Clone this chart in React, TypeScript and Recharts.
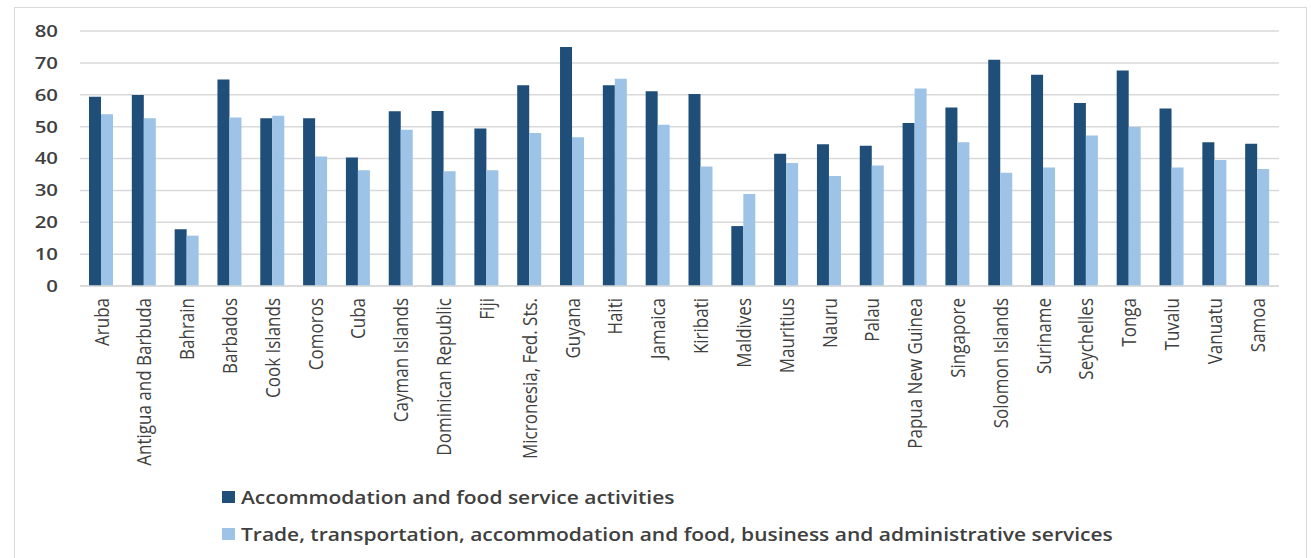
import React from 'react';
import { BarChart, Bar, XAxis, YAxis, CartesianGrid, Legend } from 'recharts';

const categories = [
  'Aruba', 'Antigua and Barbuda', 'Bahrain', 'Barbados', 'Cook Islands', 'Comoros', 'Cuba',
  'Cayman Islands', 'Dominican Republic', 'Fiji', 'Micronesia, Fed. Sts.', 'Guyana', 'Haiti',
  'Jamaica', 'Kiribati', 'Maldives', 'Mauritius', 'Nauru', 'Palau', 'Papua New Guinea',
  'Singapore', 'Solomon Islands', 'Suriname', 'Seychelles', 'Tonga', 'Tuvalu', 'Vanuatu', 'Samoa',
];

const accommodation = [
  59.4, 59.9, 17.8, 64.8, 52.6, 52.6, 40.3, 54.8, 54.9, 49.4, 63.0, 75.0, 63.0, 61.1, 60.2,
  18.8, 41.5, 44.5, 44.0, 51.1, 56.0, 71.0, 66.3, 57.4, 67.6, 55.7, 45.1, 44.6,
];

const trade = [
  53.9, 52.6, 15.8, 52.9, 53.4, 40.6, 36.3, 49.0, 36.0, 36.3, 48.0, 46.7, 65.0, 50.6, 37.5,
  28.9, 38.6, 34.5, 37.8, 62.0, 45.1, 35.5, 37.2, 47.2, 49.9, 37.2, 39.5, 36.7,
];

const yTicks = [0, 10, 20, 30, 40, 50, 60, 70, 80];

const seriesNames = [
  'Accommodation and food service activities',
  'Trade, transportation, accommodation and food, business and administrative services',
];

const seriesColors = ['#1F4E79', '#9DC3E6'];

const data = categories.map((name, i) => ({
  name,
  acc: accommodation[i],
  trade: trade[i],
}));

const FONT = '"Open Sans", sans-serif';
const TEXT = '#404040';
const STRETCH = 1.2;

function XTick(props: any) {
  const { x, y, payload } = props;
  return (
    <g transform={`translate(${x},${y}) scale(${STRETCH},1)`}>
      <text
        transform="rotate(-90)"
        x={0}
        y={0}
        dy="0.35em"
        textAnchor="end"
        fontSize={17}
        fill={TEXT}
        fontFamily={FONT}
      >
        {payload.value}
      </text>
    </g>
  );
}

function YTick(props: any) {
  const { x, y, payload } = props;
  return (
    <g transform={`translate(${x},${y}) scale(1.2,1)`}>
      <text x={0} y={0} dy="0.35em" textAnchor="end" fontSize={17} fontWeight={600} fill={TEXT} fontFamily={FONT}>
        {payload.value}
      </text>
    </g>
  );
}

function LegendContent(props: any) {
  const payload = props.payload || [];
  return (
    <div style={{ fontFamily: FONT, fontSize: 18, fontWeight: 600, color: TEXT }}>
      {payload.map((entry: any, i: number) => (
        <div key={i} style={{ display: 'flex', alignItems: 'center', height: 37 }}>
          <span
            style={{
              display: 'inline-block',
              width: 13,
              height: 12,
              background: entry.color,
              marginRight: 6,
              flex: 'none',
            }}
          />
          <span
            style={{
              display: 'inline-block',
              transform: 'scaleX(1.165)',
              transformOrigin: 'left center',
              whiteSpace: 'nowrap',
            }}
          >
            {entry.value}
          </span>
        </div>
      ))}
    </div>
  );
}

export default function App() {
  return (
    <div style={{ position: 'absolute', left: 0, top: 0, width: 1311, height: 558, background: '#fff', overflow: 'hidden' }}>
      <div
        style={{
          position: 'absolute',
          left: 14,
          top: 7,
          width: 1293,
          height: 600,
          border: '1px solid #d9d9d9',
          boxSizing: 'border-box',
        }}
      />
      <div style={{ position: 'absolute', left: 0, top: 0 }}>
        <BarChart
          width={1311}
          height={558}
          data={data}
          margin={{ top: 31, right: 32, bottom: 72, left: 20 }}
          barGap={0}
          barCategoryGap="21%"
        >
          <CartesianGrid vertical={false} stroke="#d9d9d9" strokeWidth={1.5} />
          <XAxis
            dataKey="name"
            interval={0}
            height={200}
            tickLine={false}
            tickSize={0}
            tickMargin={12}
            axisLine={{ stroke: '#d9d9d9', strokeWidth: 1.5 }}
            tick={<XTick />}
          />
          <YAxis
            domain={[0, 80]}
            ticks={yTicks}
            width={60}
            axisLine={false}
            tickLine={false}
            tickSize={0}
            tickMargin={22}
            tick={<YTick />}
          />
          <Legend
            layout="vertical"
            align="center"
            verticalAlign="middle"
            content={<LegendContent />}
            wrapperStyle={{ position: 'absolute', left: 222, top: 478, width: 1000, height: 80 }}
          />
          <Bar dataKey="acc" name={seriesNames[0]} fill={seriesColors[0]} isAnimationActive={false} />
          <Bar dataKey="trade" name={seriesNames[1]} fill={seriesColors[1]} isAnimationActive={false} />
        </BarChart>
      </div>
    </div>
  );
}
